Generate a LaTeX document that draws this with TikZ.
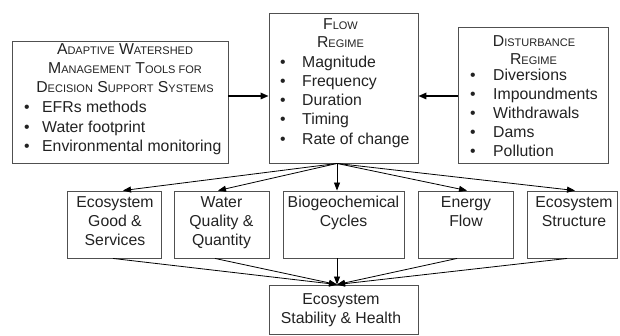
\documentclass[tikz,border=0pt]{standalone}
\usepackage{fontspec}
\setmainfont{Liberation Sans}
\usetikzlibrary{arrows.meta}
\definecolor{boxgray}{HTML}{505050}
\definecolor{txtgray}{HTML}{222222}
\newcommand\SCa[2]{{\fontsize{15.8}{18}\selectfont #1}{\fontsize{11}{18}\selectfont #2}}
\begin{document}
\begin{tikzpicture}[x=1pt,y=-1pt,
  box/.style={draw=boxgray, line width=0.9pt, inner sep=0pt},
  txt/.style={anchor=base, inner sep=0pt, text=txtgray, font=\fontsize{15.8}{18}\selectfont},
  ltxt/.style={txt, anchor=base west},
  arr/.style={-{Triangle[length=8pt,width=6pt]}, line width=0.8pt},
  harr/.style={-{Triangle[length=8pt,width=6.5pt]}, line width=1.6pt}]
\useasboundingbox (0,0) rectangle (620,336);

% boxes
\node[box, minimum width=216pt, minimum height=122pt] (tools) at (120,102) {};
\node[box, minimum width=149pt, minimum height=150pt] (flow) at (343.5,88) {};
\node[box, minimum width=150pt, minimum height=136pt] (dist) at (533,95) {};
\node[box, minimum width=94pt, minimum height=67pt] (b1) at (114,224.5) {};
\node[box, minimum width=95pt, minimum height=67pt] (b2) at (221.5,224.5) {};
\node[box, minimum width=121pt, minimum height=67pt] (b3) at (343.5,224.5) {};
\node[box, minimum width=95pt, minimum height=67pt] (b4) at (465.5,224.5) {};
\node[box, minimum width=90pt, minimum height=67pt] (b5) at (572,224.5) {};
\node[box, minimum width=149pt, minimum height=49pt] (health) at (343.5,309.5) {};

% tools text
\node[txt] (t1) at (125,55) {\SCa{A}{DAPTIVE} \SCa{W}{ATERSHED}};
\node[txt] (t2) at (125,74) {\SCa{M}{ANAGEMENT} \SCa{T}{OOLS FOR}};
\node[txt] (t3) at (125,93) {\SCa{D}{ECISION} \SCa{S}{UPPORT} \SCa{S}{YSTEMS}};
\foreach \yy/\tt in {113/EFRs methods, 132.5/Water footprint, 152/Environmental monitoring}{
  \node[txt] at (27,\yy) {\textbullet};
  \node[ltxt] at (42,\yy) {\tt};
}

% flow text
\node[txt] (f1) at (340.5,30) {\SCa{F}{LOW}};
\node[txt] (f2) at (340.5,48) {\SCa{R}{EGIME}};
\foreach \yy/\tt in {68/Magnitude, 87/Frequency, 106/Duration, 125/Timing, 145/Rate of change}{
  \node[txt] at (283,\yy) {\textbullet};
  \node[ltxt] at (302,\yy) {\tt};
}

% disturbance text
\node[txt] (d1) at (534,47) {\SCa{D}{ISTURBANCE}};
\node[txt] (d2) at (533.5,65) {\SCa{R}{EGIME}};
\foreach \yy/\tt in {81/Diversions, 100/Impoundments, 119/Withdrawals, 138/Dams, 157/Pollution}{
  \node[txt] at (473,\yy) {\textbullet};
  \node[ltxt] at (493,\yy) {\tt};
}

% bottom row text
\node[txt] at (115,208) {Ecosystem};
\node[txt] at (115,226.5) {Good \&};
\node[txt] at (115,245.5) {Services};
\node[txt] at (221.5,208) {Water};
\node[txt] at (221.5,226.5) {Quality \&};
\node[txt] at (221.5,245.5) {Quantity};
\node[txt] at (343.5,208) {Biogeochemical};
\node[txt] at (343.5,226.5) {Cycles};
\node[txt] at (466,208) {Energy};
\node[txt] at (466,226.5) {Flow};
\node[txt] at (574,208) {Ecosystem};
\node[txt] at (574,226.5) {Structure};
\node[txt] at (341,304) {Ecosystem};
\node[txt] at (341,323) {Stability \& Health};

% horizontal arrows
\coordinate (lvl) at (0,96);
\draw[harr] (tools.east |- lvl) -- (flow.west |- lvl);
\draw[harr] (dist.west |- lvl) -- (flow.east |- lvl);

% top fan
\coordinate (fs) at ([xshift=-6.5pt]flow.south);
\draw[arr] (fs) -- ([xshift=9pt]b1.north);
\draw[arr] (fs) -- ([xshift=-3.5pt]b2.north);
\draw[arr] (fs) -- ([xshift=-6.5pt]b3.north);
\draw[arr] (fs) -- ([xshift=1.5pt]b4.north);
\draw[arr] (fs) -- ([xshift=3pt]b5.north);

% bottom fan
\coordinate (hn) at ([xshift=-6.5pt]health.north);
\draw[arr] ([xshift=-1pt]b1.south) -- (hn);
\draw[arr] ([xshift=-6.5pt]b2.south) -- (hn);
\draw[arr] ([xshift=-6.5pt]b3.south) -- (hn);
\draw[arr] ([xshift=-8.5pt]b4.south) -- (hn);
\draw[arr] ([xshift=-5pt]b5.south) -- (hn);
\end{tikzpicture}
\end{document}
